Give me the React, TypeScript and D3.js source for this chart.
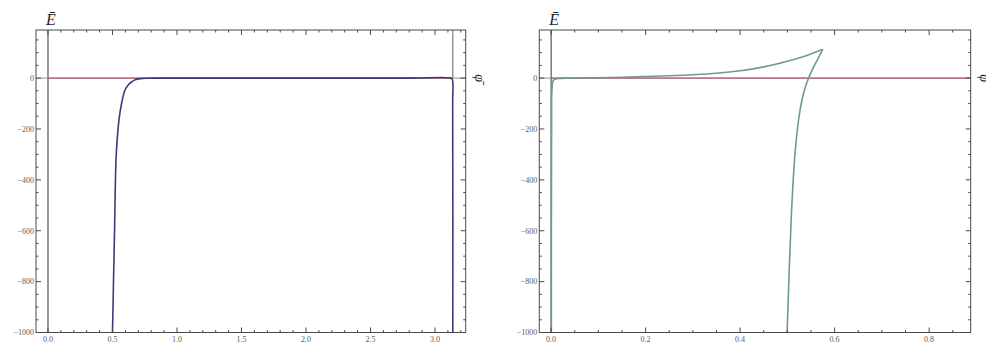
import React from "react";
import * as d3 from "d3";

// Left panel: energy curve rising from the φ = 0.5 wall
const leftRisePhi = [0.5, 0.504, 0.508, 0.516, 0.527, 0.538, 0.55, 0.571, 0.597, 0.625, 0.649, 0.68, 0.713, 0.78, 0.87, 1.2, 2.0, 2.8, 3.12, 3.134, 3.137, 3.138];
const leftRiseE = [-1000, -900, -795, -598, -323, -230, -165, -98, -47, -25, -15, -6, -2, -0.5, 0, 0, 0, 0, 0, -5, -100, -1000];
// Left panel: vertical boundary above the curve at φ ≈ π
const leftWallPhi = [3.138, 3.138];
const leftWallE = [189, 0];
// Left panel reference line Ē = 0
const leftZeroPhi = [0, 3.138];
const leftZeroE = [0, 0];

// Right panel: upper branch (from the origin up to the cusp)
const rightUpperPhi = [0.0005, 0.001, 0.002, 0.005, 0.02, 0.05, 0.1, 0.15, 0.2, 0.25, 0.3, 0.35, 0.4, 0.45, 0.5, 0.54, 0.575];
const rightUpperE = [-1000, -200, -40, -8, -1, 0.3, 1.5, 3.5, 6, 9, 13, 19, 29, 44, 66, 88, 113];
// Right panel: lower branch (from the cusp down to the wall)
const rightLowerPhi = [0.575, 0.567, 0.559, 0.552, 0.545, 0.538, 0.531, 0.524, 0.516, 0.508, 0.4995];
const rightLowerE = [113, 84, 56, 30, 0, -35, -85, -160, -300, -560, -1000];
// Right panel reference line Ē = 0
const rightZeroPhi = [0, 0.888];
const rightZeroE = [0, 0];

const yMajor = [0, -200, -400, -600, -800, -1000];
const leftXMajor = [0, 0.5, 1, 1.5, 2, 2.5, 3];
const rightXMajor = [0, 0.2, 0.4, 0.6, 0.8];

const W = 986;
const H = 343;
const FONT = "'Liberation Serif', 'DejaVu Serif', serif";

type PanelProps = {
  x0: number;
  x1: number;
  xDomain: [number, number];
  xMajor: number[];
  xMinorStep: number;
  curves: { phi: number[]; e: number[]; color: string; width: number }[];
  zero: { phi: number[]; e: number[] };
};

const fmtY = (v: number) => (v === 0 ? "0" : "\u2212" + Math.abs(v));
const fmtX = (v: number) => v.toFixed(1);

function Panel({ x0, x1, xDomain, xMajor, xMinorStep, curves, zero }: PanelProps) {
  const top = 30;
  const bottom = 332.5;
  const x = d3.scaleLinear().domain(xDomain).range([x0, x1]);
  const y = d3.scaleLinear().domain([-1000, 189]).range([bottom, top]);

  const xMinor = d3
    .range(Math.ceil(xDomain[0] / xMinorStep), Math.floor(xDomain[1] / xMinorStep) + 1)
    .map((i) => i * xMinorStep)
    .filter((v) => !xMajor.some((m) => Math.abs(m - v) < 1e-9));
  const yMinor = d3.range(-1000, 190, 50).filter((v) => !yMajor.includes(v));

  const line = (phi: number[], e: number[]) =>
    d3
      .line<number>()
      .x((i) => x(phi[i]))
      .y((i) => y(e[i]))
      .curve(d3.curveCatmullRom.alpha(0.5))(phi.map((_, i) => i)) || "";

  const frame = "#4a4a4a";
  const tickText = "#5a5a5a";
  return (
    <g>
      {/* axes through the origin */}
      <line x1={x(0)} x2={x(0)} y1={top} y2={bottom} stroke="#333" strokeWidth={1} />
      <line x1={x0} x2={x1} y1={y(0)} y2={y(0)} stroke="#777" strokeWidth={0.8} />

      {/* reference line */}
      <path d={line(zero.phi, zero.e)} fill="none" stroke="#b0485a" strokeWidth={1} />

      {curves.map((c, i) => (
        <path key={i} d={line(c.phi, c.e)} fill="none" stroke={c.color} strokeWidth={c.width} strokeLinejoin="round" />
      ))}

      {/* frame */}
      <rect x={x0} y={top} width={x1 - x0} height={bottom - top} fill="none" stroke={frame} strokeWidth={1} />

      {/* x ticks, bottom and top */}
      {xMajor.map((v) => (
        <g key={"xm" + v}>
          <line x1={x(v)} x2={x(v)} y1={bottom} y2={bottom - 5} stroke={frame} />
          <line x1={x(v)} x2={x(v)} y1={top} y2={top + 5} stroke={frame} />
          <text x={x(v)} y={342} fontSize={8} fill={tickText} textAnchor="middle" fontFamily={FONT}>
            {fmtX(v)}
          </text>
        </g>
      ))}
      {xMinor.map((v) => (
        <g key={"xn" + v}>
          <line x1={x(v)} x2={x(v)} y1={bottom} y2={bottom - 2.5} stroke={frame} />
          <line x1={x(v)} x2={x(v)} y1={top} y2={top + 2.5} stroke={frame} />
        </g>
      ))}

      {/* y ticks, left and right */}
      {yMajor.map((v) => (
        <g key={"ym" + v}>
          <line x1={x0} x2={x0 + 5} y1={y(v)} y2={y(v)} stroke={frame} />
          <line x1={x1} x2={x1 - 5} y1={y(v)} y2={y(v)} stroke={frame} />
          <text x={x0 - 2} y={y(v) + 2.8} fontSize={8} fill={tickText} textAnchor="end" fontFamily={FONT}>
            {fmtY(v)}
          </text>
        </g>
      ))}
      {yMinor.map((v) => (
        <g key={"yn" + v}>
          <line x1={x0} x2={x0 + 2.5} y1={y(v)} y2={y(v)} stroke={frame} />
          <line x1={x1} x2={x1 - 2.5} y1={y(v)} y2={y(v)} stroke={frame} />
        </g>
      ))}

      {/* axis labels */}
      <text x={x(0) + 3} y={25} fontSize={16} fontStyle="italic" fill="#222" textAnchor="middle" fontFamily={FONT}>
        {"\u0112"}
      </text>
      <text
        transform={`translate(${x1 + 9},${y(0)}) rotate(90)`}
        fontSize={14}
        fontStyle="italic"
        fill="#222"
        textAnchor="middle"
        fontFamily={FONT}
      >
        {"\u03c6\u0304"}
      </text>
    </g>
  );
}

export default function App() {
  return (
    <svg width={W} height={H} style={{ position: "absolute", left: 0, top: 0, background: "#fff" }}>
      <Panel
        x0={36}
        x1={465.7}
        xDomain={[-0.093, 3.238]}
        xMajor={leftXMajor}
        xMinorStep={0.1}
        zero={{ phi: leftZeroPhi, e: leftZeroE }}
        curves={[
          { phi: leftWallPhi, e: leftWallE, color: "#666", width: 1 },
          { phi: leftRisePhi, e: leftRiseE, color: "#3c3a78", width: 1.6 },
        ]}
      />
      <Panel
        x0={539.3}
        x1={970.7}
        xDomain={[-0.025, 0.888]}
        xMajor={rightXMajor}
        xMinorStep={0.05}
        zero={{ phi: rightZeroPhi, e: rightZeroE }}
        curves={[
          { phi: rightUpperPhi, e: rightUpperE, color: "#6f9c8a", width: 1.6 },
          { phi: rightLowerPhi, e: rightLowerE, color: "#6f9c8a", width: 1.6 },
        ]}
      />
    </svg>
  );
}
